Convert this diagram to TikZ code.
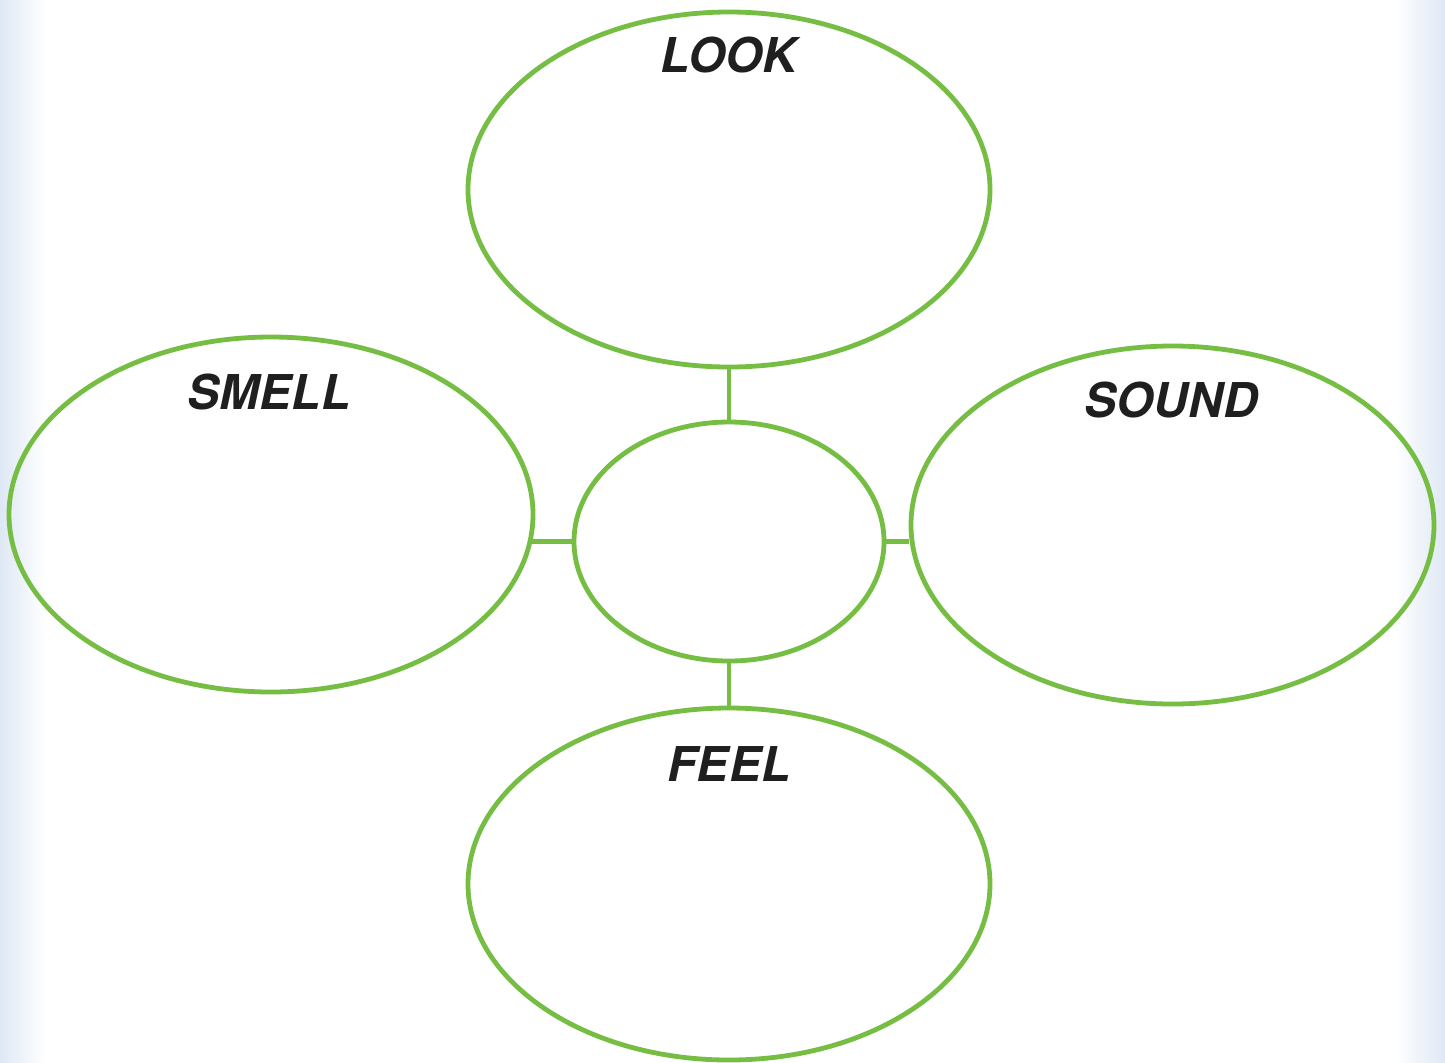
\documentclass[tikz,border=0pt]{standalone}
\usepackage{fontspec}
\setmainfont{TeX Gyre Heros}
\usetikzlibrary{shapes.geometric}
\definecolor{leaf}{RGB}{118,190,67}
\definecolor{edgeblue}{RGB}{222,232,244}
\tikzset{
  bubble/.style={draw=leaf, line width=2.4pt, ellipse, inner sep=0pt},
  link/.style={draw=leaf, line width=2.4pt},
  lbl/.style={font=\fontsize{24}{24}\selectfont\bfseries\itshape, text=black!88, inner sep=0pt}
}
\begin{document}
\begin{tikzpicture}[x=0.5pt,y=-0.5pt]
\useasboundingbox (0,0) rectangle (1445,1062);
\fill[white] (0,0) rectangle (1445,1062);
\shade[left color=edgeblue, right color=white] (0,0) rectangle (45,1062);
\shade[left color=white, right color=edgeblue] (1395,0) rectangle (1445,1062);
\node[bubble, minimum width=261pt, minimum height=177.5pt] (look) at (729,189.5) {};
\node[bubble, minimum width=262pt, minimum height=177.5pt] (smell) at (271,514.5) {};
\node[bubble, minimum width=261.5pt, minimum height=179pt] (sound) at (1172.5,525) {};
\node[bubble, minimum width=261pt, minimum height=176pt] (feel) at (729,884) {};
\node[bubble, minimum width=155pt, minimum height=119.5pt] (hub) at (729,541.5) {};
\draw[link] (look.south) -- (hub.north);
\draw[link] (hub.south) -- (feel.north);
\draw[link] (hub.west) -- (hub.west -| smell.-6);
\draw[link] (hub.east) -- (hub.east -| sound.183.6);
\node[lbl] (tlook) at (729,55) {LOOK};
\node[lbl] (tsmell) at (269,392) {SMELL};
\node[lbl] (tsound) at (1171,400) {SOUND};
\node[lbl] (tfeel) at (729,764) {FEEL};
\end{tikzpicture}
\end{document}
